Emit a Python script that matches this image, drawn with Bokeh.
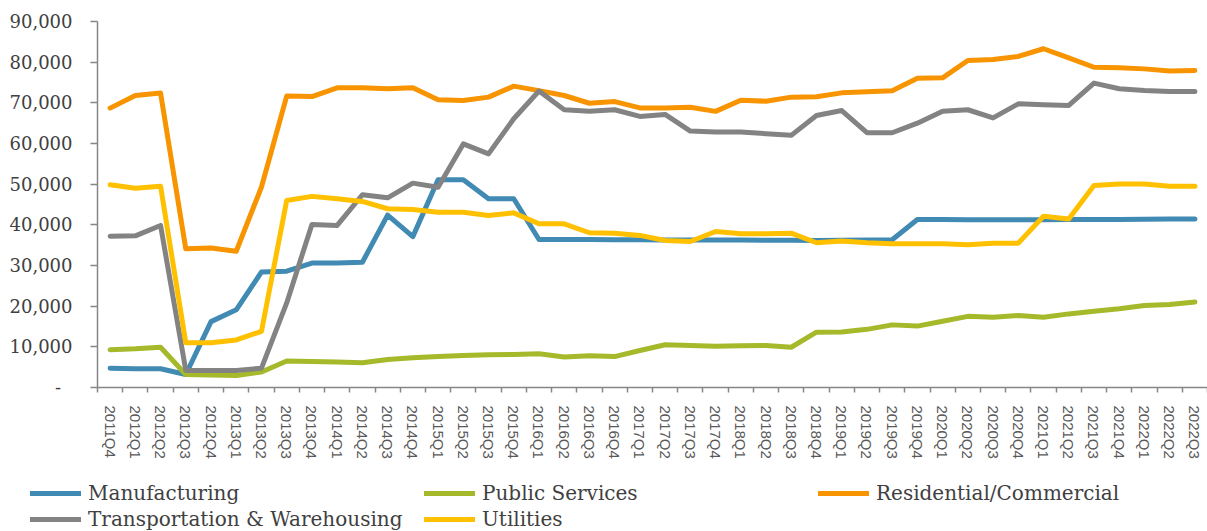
from bokeh.plotting import figure
from bokeh.models import Range1d, FixedTicker, Legend, LegendItem, NumeralTickFormatter
from bokeh.embed import file_html
from bokeh.resources import INLINE

quarters = ["2011Q4",
            "2012Q1", "2012Q2", "2012Q3", "2012Q4",
            "2013Q1", "2013Q2", "2013Q3", "2013Q4",
            "2014Q1", "2014Q2", "2014Q3", "2014Q4",
            "2015Q1", "2015Q2", "2015Q3", "2015Q4",
            "2016Q1", "2016Q2", "2016Q3", "2016Q4",
            "2017Q1", "2017Q2", "2017Q3", "2017Q4",
            "2018Q1", "2018Q2", "2018Q3", "2018Q4",
            "2019Q1", "2019Q2", "2019Q3", "2019Q4",
            "2020Q1", "2020Q2", "2020Q3", "2020Q4",
            "2021Q1", "2021Q2", "2021Q3", "2021Q4",
            "2022Q1", "2022Q2", "2022Q3"]

manufacturing = [4750, 4600, 4600, 3200, 16200, 19100, 28400, 28600, 30600, 30600, 30800, 42400,
                 37100, 51100, 51100, 46400, 46400, 36400, 36400, 36400, 36350, 36350, 36300, 36300,
                 36300, 36300, 36200, 36200, 36150, 36200, 36250, 36350, 41300, 41300, 41250, 41250,
                 41250, 41250, 41300, 41300, 41300, 41400, 41450, 41450]

public_services = [9300, 9500, 9900, 3200, 3100, 2950, 3800, 6500, 6400, 6250, 6100, 6900,
                   7300, 7600, 7850, 8050, 8100, 8300, 7500, 7800, 7600, 9100, 10500, 10350,
                   10150, 10250, 10350, 9900, 13600, 13650, 14300, 15400, 15100, 16300, 17500, 17300,
                   17700, 17300, 18100, 18750, 19350, 20150, 20400, 21000]

residential = [68700, 71800, 72400, 34100, 34300, 33500, 49300, 71650, 71550, 73700, 73700, 73450,
               73700, 70750, 70550, 71400, 74100, 73000, 71800, 69900, 70300, 68750, 68700, 68900,
               67900, 70650, 70400, 71400, 71500, 72450, 72700, 73000, 76050, 76150, 80400, 80650,
               81400, 83300, 81050, 78750, 78600, 78350, 77800, 77950]

transportation = [37200, 37300, 39850, 4200, 4200, 4200, 4750, 20800, 40100, 39850, 47400, 46650,
                  50250, 49250, 59900, 57450, 66100, 72900, 68300, 67950, 68300, 66650, 67150, 63050,
                  62800, 62800, 62400, 62000, 66900, 68100, 62650, 62650, 65000, 67950, 68300, 66300,
                  69750, 69500, 69350, 74850, 73450, 73050, 72800, 72800]

utilities = [49850, 49000, 49500, 11000, 11000, 11700, 13800, 46000, 47000, 46400, 45750, 43950,
             43750, 43100, 43100, 42300, 42950, 40250, 40250, 38050, 37950, 37400, 36150, 35900,
             38350, 37800, 37800, 37950, 35600, 36000, 35600, 35350, 35350, 35350, 35100, 35500,
             35500, 42100, 41450, 49650, 50050, 50050, 49500, 49500]

series_names = ["Manufacturing", "Public Services", "Residential/Commercial",
                "Transportation & Warehousing", "Utilities"]
series_values = [manufacturing, public_services, residential, transportation, utilities]
series_colors = ["#418AB3", "#A5B92B", "#F79400", "#838383", "#FFC000"]

y_ticks = [0, 10000, 20000, 30000, 40000, 50000, 60000, 70000, 80000, 90000]

n = len(quarters)
xs = list(range(n))

p = figure(width=1207, height=470, output_backend="svg", toolbar_location=None,
           x_range=Range1d(-0.5, n - 0.5), y_range=Range1d(0, 90000),
           min_border_left=97, min_border_right=0, min_border_top=21, min_border_bottom=83)
p.outline_line_color = None
p.background_fill_color = "white"
p.border_fill_color = "white"
p.xgrid.visible = False
p.ygrid.visible = False

axis_color = "#868686"

# y axis
p.yaxis.ticker = FixedTicker(ticks=y_ticks)
p.yaxis.formatter = NumeralTickFormatter(format="0,0")
p.yaxis.major_label_overrides = {0: "-\u00a0\u00a0"}
p.yaxis.axis_line_color = axis_color
p.yaxis.axis_line_width = 1.5
p.yaxis.major_tick_line_color = axis_color
p.yaxis.major_tick_line_width = 1.5
p.yaxis.major_tick_out = 7
p.yaxis.major_tick_in = 0
p.yaxis.minor_tick_line_color = None
p.yaxis.major_label_standoff = 18
p.yaxis.major_label_text_font = "DejaVu Serif"
p.yaxis.major_label_text_font_size = "18px"
p.yaxis.major_label_text_color = "#404040"

# x axis
p.xaxis.ticker = FixedTicker(ticks=xs, minor_ticks=[i - 0.5 for i in range(n + 1)])
p.xaxis.major_label_overrides = {i: q for i, q in enumerate(quarters)}
p.xaxis.major_label_orientation = "vertical"
p.xaxis.axis_line_color = axis_color
p.xaxis.axis_line_width = 1.5
p.xaxis.major_tick_line_color = None
p.xaxis.major_tick_out = 0
p.xaxis.major_tick_in = 0
p.xaxis.minor_tick_line_color = axis_color
p.xaxis.minor_tick_line_width = 1.5
p.xaxis.minor_tick_out = 5
p.xaxis.minor_tick_in = 0
p.xaxis.major_label_standoff = 13
p.xaxis.major_label_text_font = "Liberation Sans"
p.xaxis.major_label_text_font_size = "15px"
p.xaxis.major_label_text_color = "#595959"

for name, vals, col in zip(series_names, series_values, series_colors):
    p.line(xs, vals, line_color=col, line_width=5, line_join="round", line_cap="round")

# legend panel below the chart (separate root, so its frame is not aligned to the chart)
lg = figure(width=1207, height=61, output_backend="svg", toolbar_location=None,
            x_range=Range1d(0, 1), y_range=Range1d(0, 1),
            x_axis_type=None, y_axis_type=None,
            min_border_left=0, min_border_right=0, min_border_top=0, min_border_bottom=0)
lg.outline_line_color = None
lg.xgrid.visible = False
lg.ygrid.visible = False
lg.border_fill_color = "white"
lg.background_fill_color = "white"

items = []
for name, col in zip(series_names, series_colors):
    # legend-key line kept outside the visible range; only its style is used by the legend
    r = lg.line([2, 3], [2, 3], line_color=col, line_width=5, line_join="round", line_cap="round")
    items.append(LegendItem(label=name, renderers=[r]))

legend = Legend(items=items, location=(30, -1), orientation="horizontal", ncols=3,
                glyph_width=51, glyph_height=26, label_height=26, label_width=336,
                label_standoff=7, spacing=0, padding=0, margin=0,
                border_line_color=None, background_fill_alpha=0,
                label_text_font="DejaVu Serif", label_text_font_size="20px",
                label_text_color="#404040", label_text_baseline="middle")
lg.add_layout(legend)

open("out.html", "w").write(file_html([p, lg], INLINE))
